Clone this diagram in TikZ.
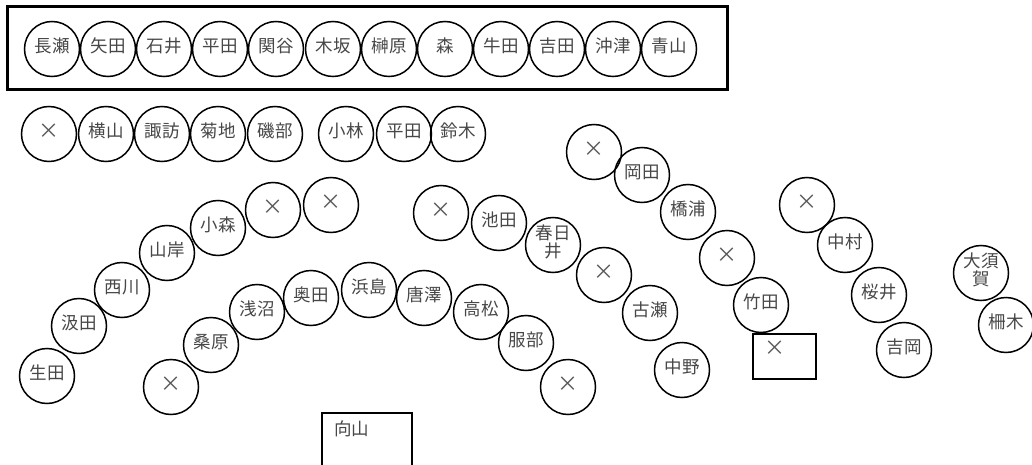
\documentclass[tikz,border=0pt]{standalone}
\usepackage{fontspec}
\setmainfont{Noto Sans CJK JP}
\begin{document}
\begin{tikzpicture}[x=1pt,y=-1pt,
  seat/.style={circle,draw=black,line width=1.5pt,minimum size=55pt,inner sep=0pt},
  seattext/.style={text=black!72,font=\fontsize{17.5}{18.5}\selectfont,inner sep=0pt,align=center},
  crossmark/.style={text=black!65,font=\fontsize{21}{21}\selectfont,inner sep=0pt},
  frame/.style={draw=black,line width=3pt},
  boxs/.style={draw=black,line width=1.6pt}]
\useasboundingbox (0,0) rectangle (1032,465);
\newcommand{\seatnode}[4]{\node[seat] (#1) at (#2,#3) {};\node[seattext] (#1t) at ([yshift=3pt]#1.center) {#4};}
\newcommand{\emptyseat}[3]{\node[seat] (#1) at (#2,#3) {};\node[crossmark] (#1t) at ([yshift=3pt]#1.center) {×};}
% top frame
\draw[frame] (7,7) rectangle (727,90);
\seatnode{a1}{52}{49}{長瀬}
\seatnode{a2}{108}{49}{矢田}
\seatnode{a3}{164}{49}{石井}
\seatnode{a4}{220}{49}{平田}
\seatnode{a5}{276}{49}{関谷}
\seatnode{a6}{333}{49}{木坂}
\seatnode{a7}{389}{49}{榊原}
\seatnode{a8}{445}{49}{森}
\seatnode{a9}{501}{49}{牛田}
\seatnode{a10}{557}{49}{吉田}
\seatnode{a11}{613}{49}{沖津}
\seatnode{a12}{669}{49}{青山}
% second row
\emptyseat{b1}{49}{134}
\seatnode{b2}{106}{134}{横山}
\seatnode{b3}{162}{134}{諏訪}
\seatnode{b4}{218}{134}{菊地}
\seatnode{b5}{275}{134}{磯部}
\seatnode{b6}{346}{134}{小林}
\seatnode{b7}{404}{134}{平田}
\seatnode{b8}{458}{134}{鈴木}
% left arc
\seatnode{c1}{47}{376}{生田}
\seatnode{c2}{79}{326}{汲田}
\seatnode{c3}{122}{290}{西川}
\seatnode{c4}{167}{253}{山岸}
\seatnode{c5}{218}{228}{小森}
\emptyseat{c6}{273}{210}
\emptyseat{c7}{331}{205}
% inner arc
\emptyseat{d1}{171}{387}
\seatnode{d2}{211}{345}{桑原}
\seatnode{d3}{257}{312}{浅沼}
\seatnode{d4}{311}{298}{奥田}
\seatnode{d5}{369}{290}{浜島}
\seatnode{d6}{424}{298}{唐澤}
\seatnode{d7}{481}{312}{高松}
\seatnode{d8}{526}{343}{服部}
\emptyseat{d9}{568}{387}
% middle
\emptyseat{e1}{441}{213}
\seatnode{e2}{499}{223}{池田}
\seatnode{e3}{553}{245}{春日\\井}
\emptyseat{e4}{604}{275}
\seatnode{e5}{650}{313}{古瀬}
\seatnode{e6}{682}{370}{中野}
% right middle
\emptyseat{f1}{594}{152}
\seatnode{f2}{642}{175}{岡田}
\seatnode{f3}{688}{212}{橋浦}
\emptyseat{f4}{727}{258}
\seatnode{f5}{761}{305}{竹田}
% right
\emptyseat{g1}{807}{205}
\seatnode{g2}{845}{245}{中村}
\seatnode{g3}{879}{295}{桜井}
\seatnode{g4}{904}{350}{吉岡}
\seatnode{h1}{981}{273}{大須\\賀}
\seatnode{h2}{1006}{325}{柵木}
% boxes
\node[boxs,minimum width=63pt,minimum height=45pt,inner sep=0pt] (r1) at (784.5,356.5) {};
\node[crossmark] (r1t) at (775,348) {×};
\draw[boxs] (322,480) |- (412,413) -- (412,480);
\node[seattext,anchor=west] (r2t) at (334,429) {向山};
\end{tikzpicture}
\end{document}
